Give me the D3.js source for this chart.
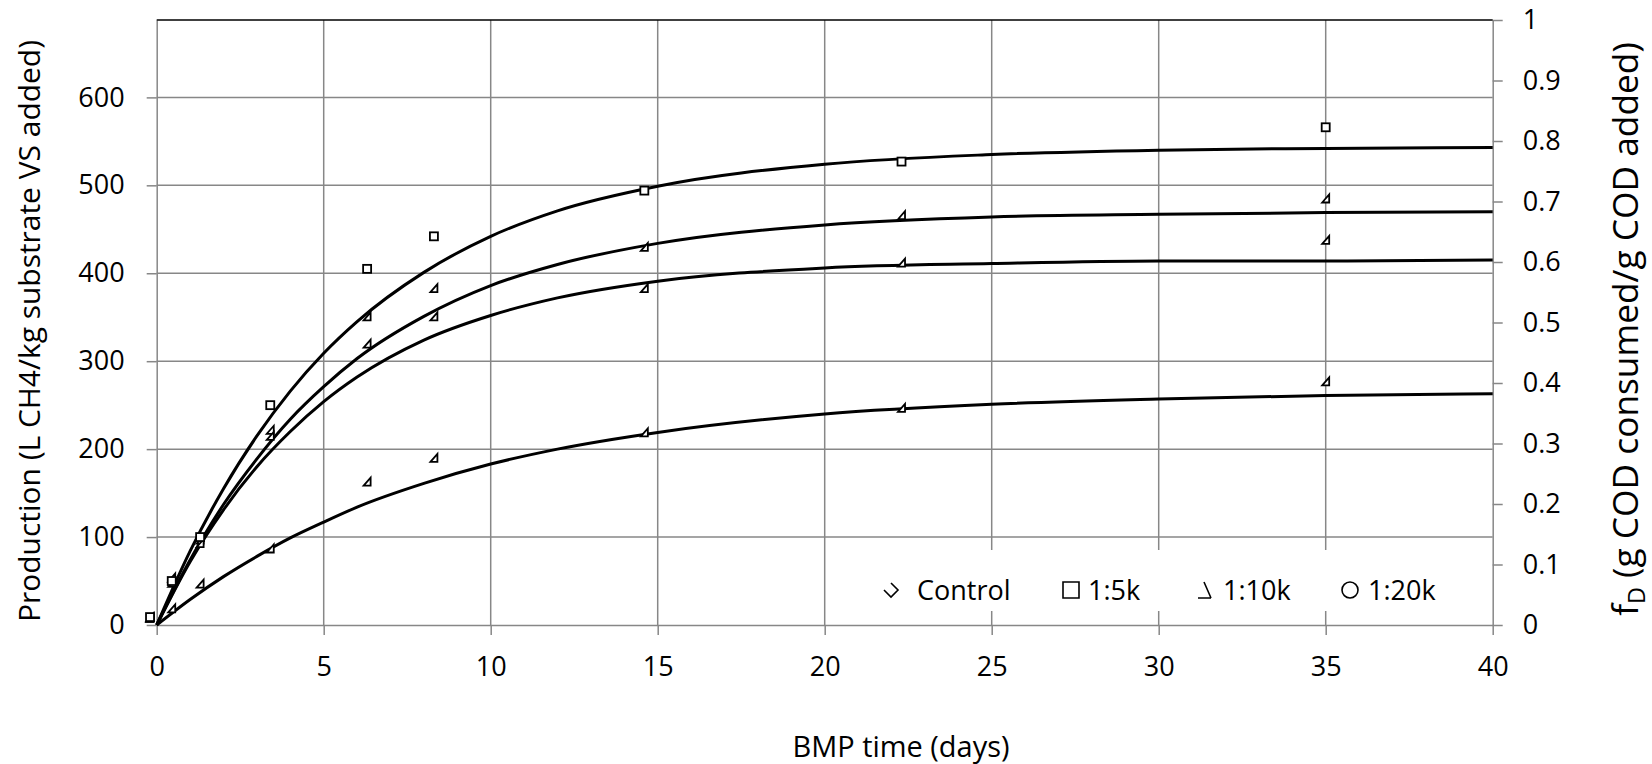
<!DOCTYPE html>
<html>
<head>
<meta charset="utf-8">
<script src="https://cdn.jsdelivr.net/npm/d3@7"></script>
<style>
  body { margin: 0; background: #fff; }
  svg { display: block; font-family: "Open Sans", sans-serif; }
</style>
</head>
<body>
<div id="chart"></div>
<script>
(function() {

// measured points (days, L CH4/kg VS)
var days      = [-0.2, 0.45, 1.3, 3.4, 6.3, 8.3, 14.6, 22.3, 35];
var ratio5k   = [9, 50, 100, 250, 405, 442, 494, 527, 566];
var ratio10k  = [8, 54, 97, 222, 351, 383, 430, 466, 485];
var ratio20k  = [9, 48, 93, 215, 320, 351, 383, 412, 438];
var control   = [8, 19, 47, 87, 163, 190, 219, 247, 277];

// fitted curves
var fitDays   = [0, 1, 2, 3, 4, 5, 6, 8, 10, 12, 15, 20, 25, 30, 35, 40];
var fit5k     = [0, 84, 155, 215, 266, 309, 345, 401, 442, 471, 499, 524, 535, 540, 542, 543];
var fit10k    = [0, 74, 137, 189, 234, 271, 303, 351, 386, 410, 434, 455, 464, 467, 469, 470];
var fit20k    = [0, 72, 131, 180, 220, 254, 282, 324, 352, 372, 391, 406, 411, 414, 414, 415];
var fitCtrl   = [0, 29, 55, 78, 99, 117, 134, 161, 183, 200, 219, 240, 251, 257, 261, 263];

var xTicks    = [0, 5, 10, 15, 20, 25, 30, 35, 40];
var yTicks    = [0, 100, 200, 300, 400, 500, 600];
var rTicks    = [0, 0.1, 0.2, 0.3, 0.4, 0.5, 0.6, 0.7, 0.8, 0.9, 1];
var legendLabels = ["Control", "1:5k", "1:10k", "1:20k"];

var W = 1652, H = 764;
var left = 156.7, right = 1492.7, top = 20, bottom = 625;
var grid = "#878787";

var x = d3.scaleLinear().domain([0, 40]).range([left, right]);
var y = d3.scaleLinear().domain([0, 688]).range([bottom, top]);
var yR = d3.scaleLinear().domain([0, 1]).range([bottom, top]);

var svg = d3.select("#chart").append("svg")
    .attr("width", W)
    .attr("height", H);

// gridlines
svg.append("g").selectAll("line")
    .data(yTicks.slice(1))
  .enter().append("line")
    .attr("x1", left).attr("x2", right)
    .attr("y1", function(d) { return y(d); })
    .attr("y2", function(d) { return y(d); })
    .style("stroke", grid).style("stroke-width", 1.5);

svg.append("g").selectAll("line")
    .data(xTicks.slice(1, -1))
  .enter().append("line")
    .attr("x1", function(d) { return x(d); })
    .attr("x2", function(d) { return x(d); })
    .attr("y1", top).attr("y2", bottom)
    .style("stroke", grid).style("stroke-width", 1.5);

// axes
function styleAxis(g) {
  g.select(".domain").attr("stroke", grid).attr("stroke-width", 1.5);
  g.selectAll(".tick line").attr("stroke", grid).attr("stroke-width", 1.5);
  g.selectAll(".tick text").attr("fill", "#000").style("font-size", "27px")
    .style("font-family", "'Open Sans', sans-serif");
}

svg.append("g")
    .attr("transform", "translate(" + left + ",0)")
    .call(d3.axisLeft(y).tickValues(yTicks).tickSize(10).tickSizeOuter(0).tickPadding(22))
    .call(styleAxis);

svg.append("g")
    .attr("transform", "translate(0," + bottom + ")")
    .call(d3.axisBottom(x).tickValues(xTicks).tickSize(10).tickSizeOuter(0).tickPadding(22))
    .call(styleAxis);

svg.append("g")
    .attr("transform", "translate(" + right + ",0)")
    .call(d3.axisRight(yR).tickValues(rTicks).tickSize(10).tickSizeOuter(0).tickPadding(20)
      .tickFormat(function(d) { return d3.format("~g")(d); }))
    .call(styleAxis);

// top border
svg.append("line")
    .attr("x1", left).attr("x2", right)
    .attr("y1", top).attr("y2", top)
    .style("stroke", "#000").style("stroke-width", 1.5);

// fitted curves
var line = d3.line()
    .x(function(d) { return x(d[0]); })
    .y(function(d) { return y(d[1]); })
    .curve(d3.curveMonotoneX);

[fit5k, fit10k, fit20k, fitCtrl].forEach(function(s) {
  svg.append("path")
      .datum(fitDays.map(function(t, i) { return [t, s[i]]; }))
      .attr("d", line)
      .style("fill", "none")
      .style("stroke", "#000")
      .style("stroke-width", 3);
});

// markers
var tri = "M-3.5,4L3.5,-4L3.5,4Z";
[control, ratio10k, ratio20k].forEach(function(s) {
  svg.append("g").selectAll("path")
      .data(days.map(function(t, i) { return [t, s[i]]; }))
    .enter().append("path")
      .attr("d", tri)
      .attr("transform", function(d) { return "translate(" + x(d[0]) + "," + y(d[1]) + ")"; })
      .style("fill", "white")
      .style("stroke", "#000")
      .style("stroke-width", 1.8);
});

svg.append("g").selectAll("rect")
    .data(days.map(function(t, i) { return [t, ratio5k[i]]; }))
  .enter().append("rect")
    .attr("x", function(d) { return x(d[0]) - 4; })
    .attr("y", function(d) { return y(d[1]) - 4; })
    .attr("width", 8).attr("height", 8)
    .style("fill", "white")
    .style("stroke", "#000")
    .style("stroke-width", 1.8);

// legend
var legend = svg.append("g");
legend.append("rect")
    .attr("x", 872).attr("y", 550)
    .attr("width", 585).attr("height", 61)
    .style("fill", "white");

var markX = [891, 1071, 1206, 1350];
var textX = [917, 1088, 1223, 1368];
var legY = 590;
var legShapes = [
  "M0,-7L7,0L0,7L-7,0",
  "M-8,-8H8V8H-8Z",
  "M-8,8H5M-2,-8L5,8",
  null
];

legShapes.forEach(function(p, i) {
  if (p) {
    legend.append("path")
        .attr("d", p)
        .attr("transform", "translate(" + markX[i] + "," + legY + ")")
        .style("fill", "none").style("stroke", "#000").style("stroke-width", 1.6);
  } else {
    legend.append("circle")
        .attr("cx", markX[i]).attr("cy", legY).attr("r", 8)
        .style("fill", "none").style("stroke", "#000").style("stroke-width", 1.6);
  }
});

legend.selectAll("text")
    .data(legendLabels)
  .enter().append("text")
    .attr("x", function(d, i) { return textX[i]; })
    .attr("y", legY + 10)
    .style("font-size", "27px")
    .text(function(d) { return d; });

// scale a title's font so it spans the same length as in the picture
function fitLength(t, target) {
  var len = t.node().getComputedTextLength();
  var fs = 27 * target / len;
  t.style("font-size", fs + "px");
  t.selectAll(".sub").style("font-size", (fs * 0.66) + "px");
}

// axis titles
var lt = svg.append("text")
    .attr("transform", "translate(40,331) rotate(-90)")
    .attr("text-anchor", "middle")
    .style("font-size", "27px")
    .text("Production (L CH4/kg substrate VS added)");
fitLength(lt, 582);

var rt = svg.append("text")
    .attr("transform", "translate(1638,329) rotate(-90)")
    .attr("text-anchor", "middle")
    .style("font-size", "27px");
rt.append("tspan").text("f");
rt.append("tspan").attr("class", "sub").attr("dy", 7).style("font-size", "18px").text("D");
rt.append("tspan").attr("dy", -7).text(" (g COD consumed/g COD added)");
fitLength(rt, 574);

var xt = svg.append("text")
    .attr("x", 901).attr("y", 757)
    .attr("text-anchor", "middle")
    .style("font-size", "27px")
    .text("BMP time (days)");
fitLength(xt, 217);

})()
</script>
</body>
</html>
